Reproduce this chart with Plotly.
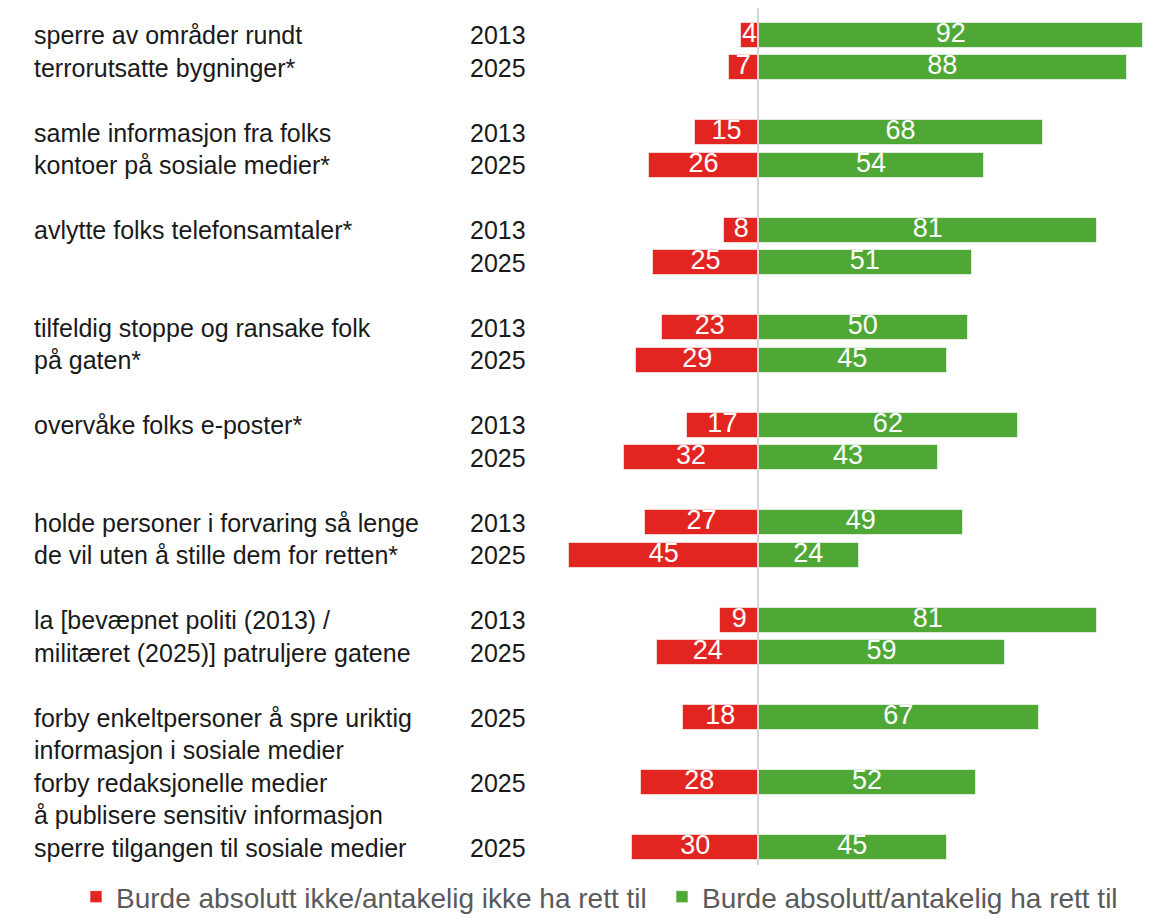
import plotly.graph_objects as go

# ---- data ----
group_labels = [
    ["sperre av områder rundt", "terrorutsatte bygninger*"],
    ["samle informasjon fra folks", "kontoer på sosiale medier*"],
    ["avlytte folks telefonsamtaler*"],
    ["tilfeldig stoppe og ransake folk", "på gaten*"],
    ["overvåke folks e-poster*"],
    ["holde personer i forvaring så lenge", "de vil uten å stille dem for retten*"],
    ["la [bevæpnet politi (2013) /", "militæret (2025)] patruljere gatene"],
    ["forby enkeltpersoner å spre uriktig", "informasjon i sosiale medier"],
    ["forby redaksjonelle medier", "å publisere sensitiv informasjon"],
    ["sperre tilgangen til sosiale medier"],
]
group_years = [
    ["2013", "2025"], ["2013", "2025"], ["2013", "2025"], ["2013", "2025"],
    ["2013", "2025"], ["2013", "2025"], ["2013", "2025"],
    ["2025"], ["2025"], ["2025"],
]
not_right = [
    [4, 7], [15, 26], [8, 25], [23, 29], [17, 32], [27, 45], [9, 24],
    [18], [28], [30],
]
has_right = [
    [92, 88], [68, 54], [81, 51], [50, 45], [62, 43], [49, 24], [81, 59],
    [67], [52], [45],
]
legend_names = ["Burde absolutt ikke/antakelig ikke ha rett til",
                "Burde absolutt/antakelig ha rett til"]

RED = "#E32522"
GREEN = "#4FA736"
FONT = "Liberation Sans, Arial, Helvetica, sans-serif"

# ---- geometry ----
W, H = 1157, 922
slot_px = 32.5
first_px = 35
px_per_unit = 4.19
zero_px = 758

rows_y, rows_red, rows_green, rows_year = [], [], [], []
label_lines = []  # (slot, text)
slot = 0
for labs, yrs, reds, greens in zip(group_labels, group_years, not_right, has_right):
    start = slot
    for yr, r, g in zip(yrs, reds, greens):
        rows_y.append(slot)
        rows_red.append(r)
        rows_green.append(g)
        rows_year.append(yr)
        slot += 1
    for li, line in enumerate(labs):
        label_lines.append((start + li, line))
    slot = start + (3 if len(yrs) == 2 else 2)

fig = go.Figure()
fig.add_trace(go.Bar(
    y=rows_y, x=[-v for v in rows_red], orientation="h", name=legend_names[0],
    marker=dict(color=RED, line=dict(color="rgba(255,255,255,0.6)", width=1)),
    width=25 / slot_px, hoverinfo="skip", legend="legend",
))
fig.add_trace(go.Bar(
    y=rows_y, x=rows_green, orientation="h", name=legend_names[1],
    marker=dict(color=GREEN, line=dict(color="rgba(255,255,255,0.6)", width=1)),
    width=25 / slot_px, hoverinfo="skip", legend="legend2",
))
# value labels centred in bars
fig.add_trace(go.Scatter(
    x=[-v / 2 for v in rows_red] + [v / 2 for v in rows_green],
    y=rows_y + rows_y, mode="text",
    text=[str(v) for v in rows_red] + [str(v) for v in rows_green],
    textfont=dict(color="white", size=27, family=FONT),
    textposition="middle center", showlegend=False, hoverinfo="skip",
))

ann = []
for s, t in label_lines:
    ann.append(dict(x=32 / W, xref="paper", y=s, yref="y", text=t, showarrow=False,
                    xanchor="left", yanchor="middle",
                    font=dict(size=25, color="#1a1a1a", family=FONT)))
for s, yr in zip(rows_y, rows_year):
    ann.append(dict(x=468 / W, xref="paper", y=s, yref="y", text=yr, showarrow=False,
                    xanchor="left", yanchor="middle",
                    font=dict(size=25, color="#1a1a1a", family=FONT)))

top_slot = -first_px / slot_px
bot_slot = (H - first_px) / slot_px

fig.add_shape(type="line", x0=0, x1=0, xref="x",
              y0=(8 - first_px) / slot_px, y1=(865 - first_px) / slot_px, yref="y",
              line=dict(color="#d6d6d6", width=2), layer="above")

leg_font = dict(size=28, color="#5a5a5a", family=FONT)
fig.update_layout(
    width=W, height=H,
    margin=dict(l=0, r=0, t=0, b=0, autoexpand=False),
    paper_bgcolor="white", plot_bgcolor="white",
    barmode="relative", bargap=0,
    xaxis=dict(range=[-zero_px / px_per_unit, (W - zero_px) / px_per_unit],
               visible=False, fixedrange=True),
    yaxis=dict(range=[bot_slot, top_slot], visible=False, fixedrange=True),
    annotations=ann,
    showlegend=True,
    legend=dict(orientation="h", x=(116 - 40) / W, xanchor="left",
                y=0, yanchor="bottom", font=leg_font,
                bgcolor="rgba(0,0,0,0)"),
    legend2=dict(orientation="h", x=(702 - 40) / W, xanchor="left",
                 y=0, yanchor="bottom", font=leg_font,
                 bgcolor="rgba(0,0,0,0)"),
    font=dict(family=FONT),
)

fig.write_html("out.html", config={"displayModeBar": False},
               post_script="document.body.style.margin='0';document.body.style.overflow='hidden';")
